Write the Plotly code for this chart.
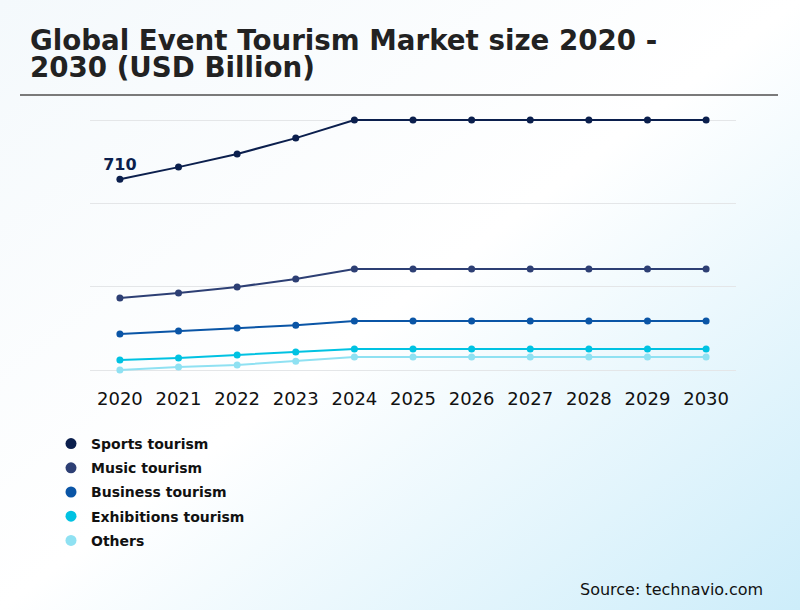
import base64
import plotly.graph_objects as go

years = [2020, 2021, 2022, 2023, 2024, 2025, 2026, 2027, 2028, 2029, 2030]

sports = [710, 755, 804, 863, 930, 930, 930, 930, 930, 930, 930]
music = [268, 287, 309, 339, 376, 376, 376, 376, 376, 376, 376]
business = [134, 145, 156, 167, 182, 182, 182, 182, 182, 182, 182]
exhibitions = [37, 45, 56, 67, 78, 78, 78, 78, 78, 78, 78]
others = [0, 11, 19, 33, 48, 48, 48, 48, 48, 48, 48]

series_names = ["Sports tourism", "Music tourism", "Business tourism",
                "Exhibitions tourism", "Others"]
series_values = [sports, music, business, exhibitions, others]
colors = ["#0b1f4d", "#2d3f74", "#0a55a6", "#00c2e2", "#8fe1f2"]

grid_vals = [0, 310, 620, 930]

W, H = 800, 610
L, R, T, B = 90, 64, 100, 230

# soft diagonal background gradient
svg = (
    '<svg xmlns="http://www.w3.org/2000/svg" width="800" height="610">'
    '<defs><linearGradient id="g" x1="0" y1="0" x2="1" y2="1">'
    '<stop offset="0" stop-color="#f4f9fc"/>'
    '<stop offset="0.5" stop-color="#ffffff"/>'
    '<stop offset="1" stop-color="#cdedfa"/>'
    '</linearGradient></defs>'
    '<rect width="800" height="610" fill="url(#g)"/></svg>'
)
bg = "data:image/svg+xml;base64," + base64.b64encode(svg.encode()).decode()

fig = go.Figure()

for name, vals, col in zip(series_names, series_values, colors):
    txt = [""] * len(vals)
    if name == "Sports tourism":
        txt[0] = str(vals[0])
    fig.add_trace(go.Scatter(
        x=years, y=vals, mode="lines+markers+text", name=name,
        line=dict(color=col, width=2), marker=dict(color=col, size=7),
        text=txt, textposition="top center",
        textfont=dict(family="DejaVu Sans", size=16, color="#0b1f4d", weight="bold"),
        showlegend=False, legendgroup=name, hoverinfo="x+y+name",
    ))

# legend entries drawn as plain dots
for name, col in zip(series_names, colors):
    fig.add_trace(go.Scatter(
        x=[None], y=[None], mode="markers", name=name,
        marker=dict(color=col, size=11), legendgroup=name,
    ))

pw = W - L - R
ph = H - T - B


def px(x):
    return (x - L) / pw


def py(y):
    return (H - B - y) / ph


title_font = dict(family="DejaVu Sans", size=27.7, color="#222222", weight="bold")

fig.update_layout(
    width=W, height=H,
    margin=dict(l=L, r=R, t=T, b=B),
    paper_bgcolor="white",
    plot_bgcolor="rgba(0,0,0,0)",
    images=[dict(source=bg, xref="paper", yref="paper",
                 x=px(0), y=py(0), sizex=W / pw, sizey=H / ph,
                 xanchor="left", yanchor="top", sizing="stretch", layer="below")],
    xaxis=dict(range=[2019.49, 2030.51], tickvals=years, showgrid=False,
               zeroline=False, showline=False, ticks="", ticklabelstandoff=6,
               tickfont=dict(family="DejaVu Sans", size=18, color="#111111")),
    yaxis=dict(range=[-37.2, 1004.8], tickvals=grid_vals, showticklabels=False,
               gridcolor="#e4e6e8", gridwidth=1, zeroline=False, showline=False),
    legend=dict(x=px(51), xanchor="left", y=py(428), yanchor="top",
                bgcolor="rgba(0,0,0,0)", itemwidth=30, tracegroupgap=3,
                font=dict(family="DejaVu Sans", size=14, color="#111111", weight="bold")),
    shapes=[dict(type="line", xref="paper", yref="paper",
                 x0=px(20), x1=px(778), y0=py(95), y1=py(95),
                 line=dict(color="#7a7a7a", width=2))],
    annotations=[
        dict(text="Global Event Tourism Market size 2020 -", xref="paper", yref="paper",
             x=px(28), y=py(40), xanchor="left", yanchor="middle", height=27,
             showarrow=False, font=title_font),
        dict(text="2030 (USD Billion)", xref="paper", yref="paper",
             x=px(28), y=py(68), xanchor="left", yanchor="middle", height=27,
             showarrow=False, font=title_font),
        dict(text="Source: technavio.com", xref="paper", yref="paper",
             x=px(765), y=py(589), xanchor="right", yanchor="middle",
             showarrow=False, font=dict(family="DejaVu Sans", size=16, color="#111111")),
    ],
)

fig.write_html("out.html", config={"displayModeBar": False},
               post_script="document.body.style.margin='0';")
